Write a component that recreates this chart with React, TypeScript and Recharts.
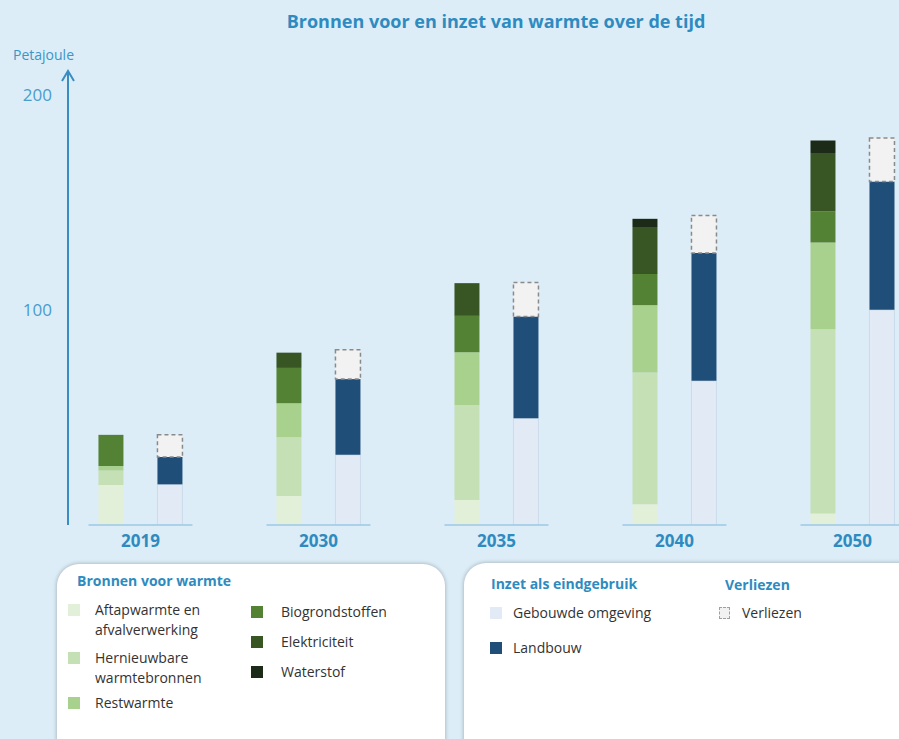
import { BarChart, Bar, XAxis, YAxis } from 'recharts'

const years = ['2019', '2030', '2035', '2040', '2050']
const aftapwarmte = [18.6, 13.5, 11.6, 9.6, 5.4]
const hernieuwbaar = [6.7, 27.3, 44.2, 61.3, 85.6]
const restwarmte = [2.1, 15.8, 24.5, 31.3, 40.3]
const biogrondstoffen = [14.5, 16.4, 16.9, 14.5, 14.4]
const elektriciteit = [0, 7.1, 15.2, 21.8, 27.2]
const waterstof = [0, 0, 0, 3.8, 5.8]
const gebouwd = [18.9, 32.6, 49.6, 67.0, 100]
const landbouw = [12.7, 35.2, 47.3, 59.4, 59.7]
const verliezen = [10.3, 13.6, 15.8, 17.5, 20.2]
const yTicks = [100, 200]

const data = years.map((year, i) => ({
  idx: i,
  year,
  aftapwarmte: aftapwarmte[i],
  hernieuwbaar: hernieuwbaar[i],
  restwarmte: restwarmte[i],
  biogrondstoffen: biogrondstoffen[i],
  elektriciteit: elektriciteit[i],
  waterstof: waterstof[i],
  gebouwd: gebouwd[i],
  landbouw: landbouw[i],
  verliezen: verliezen[i],
}))

const BLUE = '#2e8bc0'
const AXIS = '#3a8dc1'
const FONT = '"Open Sans", "Liberation Sans", sans-serif'

const C = {
  aftap: '#e2f0d9',
  hern: '#c5e0b4',
  rest: '#a9d18e',
  bio: '#548235',
  elek: '#375623',
  water: '#1b2b17',
  gebouwd: '#e1eaf5',
  landbouw: '#1f4e79',
  verlies: '#f2f2f2',
}

function YearTick({ x, y, payload }: any) {
  return (
    <g>
      <line x1={x - 52} x2={x + 52} y1={y} y2={y} stroke="#9dc9e6" strokeWidth={1.5} />
      <text x={x} y={y + 22} textAnchor="middle" fill={BLUE} fontSize={17} fontWeight={700} fontFamily={FONT}>
        {years[payload.value]}
      </text>
    </g>
  )
}

function AxisArrow({ viewBox }: any) {
  const ax = viewBox.x + viewBox.width
  const ay = viewBox.y
  return (
    <polyline
      points={`${ax - 6},${ay + 10} ${ax},${ay} ${ax + 6},${ay + 10}`}
      fill="none"
      stroke={AXIS}
      strokeWidth={2}
    />
  )
}

function Swatch({ color, dashed }: { color: string; dashed?: boolean }) {
  return (
    <span
      style={{
        position: 'absolute',
        left: 0,
        top: 4,
        width: dashed ? 11 : 12,
        height: dashed ? 12 : 12,
        background: color,
        border: dashed ? '1.5px dashed #a0a0a0' : 'none',
        boxSizing: 'border-box',
      }}
    />
  )
}

function Item({ x, y, color, lines, dashed, gap = 27 }: any) {
  return (
    <div style={{ position: 'absolute', left: x, top: y, paddingLeft: gap, lineHeight: '20px', fontSize: 14, color: '#333' }}>
      <Swatch color={color} dashed={dashed} />
      {lines.map((l: string) => (
        <div key={l} style={{ whiteSpace: 'nowrap' }}>{l}</div>
      ))}
    </div>
  )
}

export default function App() {
  return (
    <div
      style={{
        position: 'absolute',
        left: 0,
        top: 0,
        width: 899,
        height: 739,
        overflow: 'hidden',
        background: '#dcedf8',
        fontFamily: FONT,
      }}
    >
      <div style={{ position: 'absolute', left: 0, width: 992, top: 9, textAlign: 'center', color: BLUE, fontWeight: 700, fontSize: 18 }}>
        Bronnen voor en inzet van warmte over de tijd
      </div>
      <div style={{ position: 'absolute', left: 13, top: 45, color: '#3d95c6', fontSize: 14 }}>Petajoule</div>

      <div style={{ position: 'absolute', left: 0, top: 0 }}>
        <BarChart
          width={960}
          height={570}
          data={data}
          margin={{ top: 71, right: 0, left: 0, bottom: 5 }}
          barSize={25}
          barGap={34}
        >
          <XAxis
            dataKey="idx"
            type="number"
            domain={[-0.407, 4.604]}
            ticks={[0, 1, 2, 3, 4]}
            interval={0}
            allowDataOverflow
            axisLine={false}
            tickLine={false}
            tickSize={0}
            tickMargin={0}
            height={40}
            tick={<YearTick />}
          />
          <YAxis
            width={68}
            domain={[0, 211]}
            ticks={yTicks}
            allowDataOverflow
            axisLine={{ stroke: AXIS, strokeWidth: 2 }}
            tickLine={false}
            tickSize={0}
            tickMargin={16}
            tick={{ fill: '#4a9ccc', fontSize: 17, fontFamily: FONT }}
            label={{ content: <AxisArrow /> }}
          />
          <Bar dataKey="aftapwarmte" stackId="bron" fill={C.aftap} isAnimationActive={false} />
          <Bar dataKey="hernieuwbaar" stackId="bron" fill={C.hern} isAnimationActive={false} />
          <Bar dataKey="restwarmte" stackId="bron" fill={C.rest} isAnimationActive={false} />
          <Bar dataKey="biogrondstoffen" stackId="bron" fill={C.bio} isAnimationActive={false} />
          <Bar dataKey="elektriciteit" stackId="bron" fill={C.elek} isAnimationActive={false} />
          <Bar dataKey="waterstof" stackId="bron" fill={C.water} isAnimationActive={false} />
          <Bar dataKey="gebouwd" stackId="inzet" fill={C.gebouwd} stroke="#cbdbeb" isAnimationActive={false} />
          <Bar dataKey="landbouw" stackId="inzet" fill={C.landbouw} isAnimationActive={false} />
          <Bar
            dataKey="verliezen"
            stackId="inzet"
            fill={C.verlies}
            stroke="#8a8a8a"
            strokeWidth={1.5}
            strokeDasharray="4 3"
            isAnimationActive={false}
          />
        </BarChart>
      </div>

      <div
        style={{
          position: 'absolute',
          left: 57,
          top: 564,
          width: 388,
          height: 200,
          background: '#fff',
          borderRadius: 22,
          boxShadow: '0 0 4px rgba(0,0,0,0.3)',
        }}
      >
        <div style={{ position: 'absolute', left: 20, top: 7, color: BLUE, fontWeight: 700, fontSize: 14 }}>Bronnen voor warmte</div>
        <div style={{ position: 'absolute', left: 0, top: 0 }}>
          <Item x={11} y={36} color={C.aftap} lines={['Aftapwarmte en', 'afvalverwerking']} />
          <Item x={11} y={84} color={C.hern} lines={['Hernieuwbare', 'warmtebronnen']} />
          <Item x={11} y={129} color={C.rest} lines={['Restwarmte']} />
          <Item x={194} y={38} color={C.bio} lines={['Biogrondstoffen']} gap={30} />
          <Item x={194} y={68} color={C.elek} lines={['Elektriciteit']} gap={30} />
          <Item x={194} y={98} color={C.water} lines={['Waterstof']} gap={30} />
        </div>
      </div>

      <div
        style={{
          position: 'absolute',
          left: 464,
          top: 563,
          width: 460,
          height: 200,
          background: '#fff',
          borderRadius: 22,
          boxShadow: '0 0 4px rgba(0,0,0,0.3)',
        }}
      >
        <div style={{ position: 'absolute', left: 27, top: 11, color: BLUE, fontWeight: 700, fontSize: 14 }}>Inzet als eindgebruik</div>
        <div style={{ position: 'absolute', left: 261, top: 12, color: BLUE, fontWeight: 700, fontSize: 14 }}>Verliezen</div>
        <Item x={26} y={40} color={C.gebouwd} lines={['Gebouwde omgeving']} gap={23} />
        <Item x={26} y={75} color={C.landbouw} lines={['Landbouw']} gap={23} />
        <Item x={255} y={40} color={C.verlies} lines={['Verliezen']} gap={23} dashed />
      </div>
    </div>
  )
}
